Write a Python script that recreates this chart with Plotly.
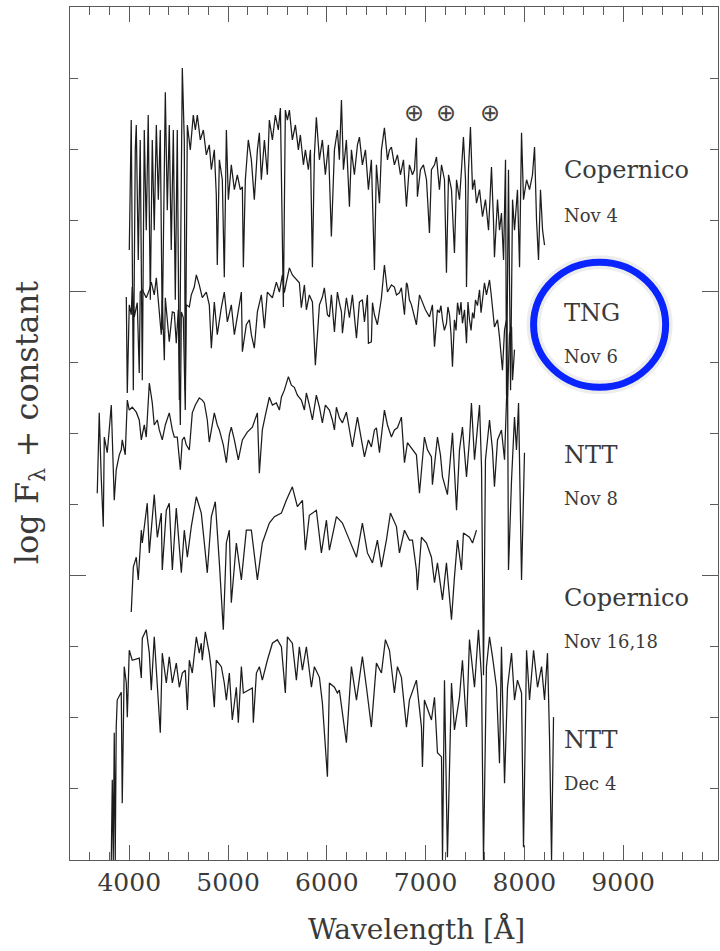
import plotly.graph_objects as go

# ---------------- data (wavelength in Angstrom, log F_lambda + constant) ----------------
cop_nov4_wl = [4000, 4020, 4041, 4061, 4071, 4091, 4111, 4132, 4152, 4172, 4192, 4213, 4233, 4253, 4274, 4294,
               4314, 4334, 4365, 4385, 4405, 4425, 4446, 4466, 4486, 4507, 4537, 4557, 4567, 4588, 4618, 4648,
               4669, 4689, 4719, 4750, 4780, 4810, 4831, 4861, 4881, 4891, 4912, 4942, 4962, 4983, 5003, 5033,
               5064, 5094, 5124, 5145, 5155, 5175, 5205, 5236, 5266, 5297, 5317, 5337, 5368, 5398, 5418, 5449,
               5479, 5509, 5530, 5560, 5580, 5601, 5621, 5651, 5682, 5712, 5732, 5763, 5783, 5813, 5834, 5854,
               5874, 5894, 5925, 5955, 5985, 6016, 6046, 6077, 6107, 6127, 6148, 6168, 6198, 6229, 6249, 6279,
               6310, 6330, 6360, 6391, 6421, 6451, 6482, 6502, 6533, 6553, 6583, 6614, 6634, 6654, 6684, 6715,
               6745, 6776, 6806, 6836, 6867, 6887, 6907, 6917, 6948, 6978, 7009, 7039, 7059, 7090, 7110, 7140,
               7161, 7191, 7211, 7232, 7262, 7292, 7313, 7343, 7363, 7383, 7404, 7414, 7434, 7454, 7475, 7495,
               7515, 7546, 7576, 7606, 7637, 7667, 7687, 7697, 7728, 7748, 7768, 7789, 7809, 7819, 7839, 7860,
               7880, 7900, 7930, 7951, 7971, 7991, 8022, 8052, 8082, 8103, 8123, 8143, 8163, 8184, 8204]
cop_nov4_flux = [8.58, 10.41, 6.61, 9.99, 10.34, 8.44, 10.13, 6.75, 10.27, 8.86, 10.48, 7.88, 10.13, 8.86, 10.34, 9.29,
                 10.27, 7.46, 10.80, 9.14, 10.34, 8.58, 10.27, 7.88, 10.27, 6.47, 11.14, 10.13, 6.61, 10.34, 9.99, 10.48,
                 10.27, 10.48, 10.13, 10.27, 9.92, 10.06, 9.71, 9.99, 9.36, 8.37, 9.85, 9.57, 8.20, 10.27, 9.29, 9.78,
                 9.43, 9.64, 9.43, 9.47, 8.34, 9.57, 10.13, 9.85, 9.29, 9.99, 10.23, 9.57, 10.13, 9.64, 10.41, 10.13,
                 10.48, 10.27, 10.58, 7.78, 10.55, 10.41, 10.55, 10.13, 10.34, 9.99, 10.20, 9.78, 9.99, 9.71, 9.99, 8.34,
                 9.92, 10.45, 9.85, 10.13, 9.64, 10.06, 8.77, 9.99, 10.27, 9.85, 10.69, 9.71, 10.13, 9.19, 9.99, 9.64,
                 10.06, 10.17, 9.78, 9.99, 9.43, 9.85, 8.30, 9.78, 9.24, 9.99, 10.30, 9.85, 9.99, 10.03, 9.78, 9.92,
                 9.64, 9.85, 9.19, 9.78, 9.64, 9.71, 10.16, 9.33, 9.71, 9.78, 9.57, 8.82, 9.71, 9.78, 9.89, 9.43,
                 9.78, 9.57, 8.26, 9.64, 9.43, 8.54, 9.57, 9.29, 9.71, 10.17, 9.57, 8.06, 9.71, 10.31, 9.43, 9.57,
                 9.24, 9.43, 9.05, 9.29, 8.86, 9.75, 9.00, 8.48, 9.29, 8.86, 9.10, 8.44, 9.85, 6.54, 9.71, 6.61,
                 9.29, 8.86, 9.43, 8.34, 10.23, 9.29, 9.57, 9.43, 9.64, 10.03, 9.00, 8.44, 9.43, 8.86, 8.65]

tng_nov6_wl = [3970, 3980, 4000, 4020, 4030, 4051, 4081, 4101, 4111, 4132, 4172, 4203, 4223, 4253, 4274, 4304,
               4324, 4334, 4355, 4365, 4385, 4405, 4436, 4456, 4476, 4496, 4517, 4527, 4547, 4567, 4577, 4608,
               4628, 4658, 4679, 4709, 4739, 4780, 4810, 4831, 4861, 4891, 4932, 4962, 4993, 5033, 5064, 5094,
               5135, 5145, 5185, 5216, 5236, 5266, 5297, 5337, 5368, 5398, 5449, 5489, 5520, 5550, 5570, 5590,
               5621, 5651, 5692, 5722, 5742, 5773, 5793, 5823, 5854, 5884, 5925, 5955, 5975, 6006, 6026, 6046,
               6077, 6107, 6127, 6148, 6158, 6198, 6229, 6259, 6300, 6330, 6360, 6381, 6411, 6421, 6451, 6462,
               6482, 6512, 6553, 6583, 6614, 6654, 6684, 6705, 6735, 6755, 6786, 6806, 6816, 6836, 6857, 6907,
               6938, 6968, 6998, 7039, 7069, 7090, 7120, 7140, 7155, 7171, 7190, 7211, 7226, 7242, 7257, 7272,
               7292, 7308, 7323, 7343, 7358, 7373, 7394, 7414, 7429, 7444, 7460, 7475, 7490, 7505, 7525, 7546,
               7561, 7576, 7596, 7616, 7647, 7662, 7677, 7697, 7728, 7748, 7778, 7799, 7819, 7829, 7849, 7870,
               7880, 7900]
tng_nov6_flux = [7.92, 6.57, 7.81, 7.67, 8.06, 7.64, 7.84, 6.85, 7.99, 8.02, 7.91, 8.02, 8.13, 7.95, 8.19, 7.77,
                 7.39, 7.88, 7.03, 7.91, 7.57, 7.29, 7.71, 7.70, 7.27, 7.74, 6.12, 7.71, 7.63, 6.33, 7.81, 7.78,
                 7.95, 8.06, 8.23, 8.09, 7.91, 7.99, 7.81, 7.20, 7.85, 7.39, 7.77, 7.99, 7.57, 7.81, 7.39, 7.67,
                 7.99, 7.15, 7.53, 7.60, 7.39, 7.20, 7.71, 7.95, 7.48, 7.99, 7.91, 8.13, 7.99, 8.23, 7.98, 8.13,
                 8.33, 8.23, 8.16, 8.12, 7.77, 8.09, 7.74, 7.95, 7.85, 6.96, 7.81, 7.92, 8.05, 7.67, 7.64, 7.95,
                 7.43, 7.99, 7.84, 7.71, 7.41, 7.91, 7.63, 7.95, 7.34, 7.85, 7.88, 7.57, 7.95, 7.27, 7.29, 7.84,
                 7.67, 7.53, 7.91, 8.37, 7.99, 8.09, 8.06, 7.95, 7.98, 8.05, 7.67, 8.12, 8.09, 7.88, 7.81, 7.53,
                 7.95, 7.84, 7.74, 7.64, 7.81, 7.22, 7.74, 7.70, 7.80, 7.60, 7.45, 7.55, 7.78, 7.67, 7.40, 6.94,
                 7.60, 7.45, 7.84, 7.67, 7.85, 7.55, 7.74, 7.27, 7.85, 7.60, 7.45, 7.70, 7.62, 7.88, 7.80, 8.02,
                 7.70, 7.88, 8.12, 7.95, 8.16, 7.98, 7.74, 7.50, 7.60, 7.36, 6.89, 7.46, 7.60, 6.51, 7.39, 7.50,
                 6.75, 7.18]

ntt_nov8_wl = [3676, 3696, 3716, 3737, 3747, 3777, 3797, 3818, 3848, 3868, 3899, 3919, 3929, 3959, 3980, 4000,
               4030, 4071, 4101, 4122, 4152, 4172, 4203, 4233, 4253, 4284, 4304, 4334, 4365, 4405, 4436, 4456,
               4486, 4517, 4537, 4557, 4577, 4608, 4638, 4669, 4709, 4739, 4760, 4790, 4810, 4841, 4861, 4891,
               4912, 4952, 4983, 5013, 5033, 5064, 5104, 5145, 5195, 5246, 5297, 5317, 5347, 5378, 5418, 5449,
               5489, 5520, 5540, 5570, 5611, 5641, 5671, 5702, 5742, 5773, 5793, 5823, 5854, 5894, 5925, 5955,
               5985, 6026, 6056, 6077, 6097, 6127, 6158, 6198, 6229, 6259, 6310, 6350, 6381, 6421, 6451, 6482,
               6502, 6533, 6563, 6583, 6614, 6654, 6684, 6715, 6755, 6786, 6816, 6867, 6907, 6938, 6988, 7019,
               7059, 7069, 7120, 7150, 7171, 7221, 7272, 7313, 7343, 7373, 7414, 7444, 7464, 7495, 7525, 7546,
               7566, 7586, 7606, 7647, 7677, 7697, 7728, 7768, 7799, 7829, 7839, 7870, 7900, 7920, 7941, 7971,
               8001]
ntt_nov8_flux = [5.16, 6.29, 5.39, 4.69, 5.95, 5.73, 6.05, 6.40, 5.06, 5.49, 5.70, 5.77, 5.91, 5.70, 6.47, 6.33,
                 6.37, 6.30, 6.19, 5.91, 6.12, 5.95, 6.71, 6.43, 6.12, 6.19, 6.05, 5.91, 6.12, 6.29, 6.05, 5.95,
                 5.95, 5.49, 5.91, 5.95, 5.84, 5.77, 6.29, 6.40, 6.50, 6.47, 6.43, 6.19, 5.88, 6.12, 6.29, 6.12,
                 6.05, 5.84, 5.59, 5.98, 6.09, 5.91, 5.63, 5.91, 6.02, 6.09, 6.29, 5.44, 6.05, 6.26, 6.51, 6.40,
                 6.43, 6.33, 6.51, 6.61, 6.80, 6.68, 6.65, 6.54, 6.47, 6.33, 6.57, 6.40, 6.19, 6.54, 6.37, 6.15,
                 6.40, 6.33, 6.19, 6.05, 6.37, 6.22, 6.15, 6.30, 6.05, 5.81, 6.23, 5.91, 5.67, 5.91, 5.81, 6.05,
                 6.08, 5.73, 6.12, 6.33, 6.12, 5.95, 6.05, 6.08, 6.23, 5.59, 5.87, 5.77, 5.70, 5.16, 5.95, 5.77,
                 5.67, 5.28, 5.95, 5.70, 5.39, 5.14, 6.01, 4.92, 5.77, 6.09, 5.39, 5.91, 6.43, 5.63, 6.05, 6.40,
                 5.53, 2.60, 5.63, 6.19, 5.77, 5.25, 5.91, 6.05, 5.63, 6.89, 4.08, 5.35, 6.23, 5.77, 6.43, 3.94,
                 5.73]

cop_nov16_wl = [4020, 4041, 4071, 4091, 4122, 4132, 4182, 4203, 4253, 4284, 4324, 4334, 4375, 4405, 4436, 4476,
                4527, 4557, 4588, 4628, 4679, 4729, 4760, 4790, 4831, 4871, 4912, 4952, 4983, 5013, 5033, 5084,
                5135, 5185, 5236, 5297, 5347, 5418, 5469, 5540, 5590, 5651, 5702, 5753, 5783, 5823, 5894, 5945,
                5996, 6026, 6097, 6158, 6229, 6300, 6360, 6411, 6462, 6512, 6553, 6603, 6644, 6705, 6735, 6786,
                6836, 6867, 6907, 6917, 6958, 7009, 7059, 7090, 7120, 7171, 7211, 7262, 7292, 7323, 7363, 7383,
                7444, 7475, 7515]
cop_nov16_flux = [3.49, 4.12, 4.26, 3.94, 4.64, 4.46, 5.02, 4.32, 5.14, 4.54, 4.88, 4.08, 4.92, 5.02, 4.08, 4.95,
                  4.04, 4.64, 4.26, 4.69, 5.11, 4.88, 4.46, 4.04, 4.83, 5.04, 4.18, 3.24, 4.46, 4.64, 3.62, 4.46,
                  3.94, 4.64, 4.64, 3.94, 4.46, 4.74, 4.83, 4.88, 5.06, 5.25, 4.97, 5.06, 4.36, 4.85, 4.92, 4.32,
                  4.78, 4.36, 4.83, 4.74, 4.50, 4.26, 4.74, 4.32, 4.18, 4.50, 4.12, 4.50, 4.88, 4.69, 4.32, 4.64,
                  4.50, 4.50, 4.08, 3.80, 4.54, 4.46, 4.26, 3.90, 4.18, 3.66, 4.18, 3.38, 3.98, 4.50, 4.08, 4.60,
                  4.54, 4.46, 4.64]

ntt_dec4_wl = [3818, 3828, 3838, 3848, 3858, 3868, 3878, 3919, 3929, 3949, 3970, 3980, 4000, 4030, 4101, 4122,
               4132, 4172, 4203, 4223, 4253, 4274, 4314, 4334, 4375, 4405, 4436, 4476, 4507, 4537, 4567, 4588,
               4608, 4638, 4679, 4709, 4729, 4739, 4770, 4810, 4831, 4861, 4881, 4932, 4962, 4983, 5013, 5043,
               5084, 5104, 5135, 5155, 5246, 5256, 5287, 5317, 5347, 5398, 5449, 5499, 5540, 5580, 5601, 5651,
               5692, 5722, 5753, 5793, 5844, 5874, 5925, 5955, 5985, 6006, 6026, 6077, 6107, 6127, 6198, 6249,
               6300, 6360, 6401, 6451, 6502, 6553, 6593, 6634, 6684, 6715, 6755, 6806, 6836, 6907, 6958, 6968,
               6988, 7059, 7090, 7120, 7161, 7171, 7191, 7221, 7262, 7292, 7343, 7373, 7414, 7444, 7495, 7535,
               7566, 7586, 7616, 7647, 7677, 7718, 7748, 7768, 7799, 7829, 7870, 7900, 7930, 7971, 7991, 8022,
               8052, 8093, 8133, 8174, 8204, 8234, 8255, 8275, 8295]
ntt_dec4_flux = [0.00, 1.13, 0.00, 1.79, 0.00, 1.87, 2.25, 2.36, 0.80, 2.72, 2.49, 2.01, 2.95, 2.81, 2.84, 2.56,
                 3.12, 3.24, 2.91, 2.39, 3.14, 2.72, 1.79, 2.91, 2.49, 2.86, 2.49, 2.77, 2.43, 2.63, 2.67, 2.11,
                 2.81, 2.63, 3.14, 2.91, 3.05, 2.81, 3.21, 2.91, 2.67, 2.15, 2.81, 2.72, 2.49, 2.25, 2.63, 1.97,
                 2.43, 1.93, 2.72, 2.35, 2.42, 1.93, 2.63, 2.72, 2.53, 2.81, 3.05, 3.10, 3.00, 2.35, 3.14, 3.05,
                 2.53, 3.00, 2.67, 3.00, 2.43, 2.72, 2.57, 2.21, 1.59, 1.17, 2.49, 2.43, 2.35, 2.39, 1.65, 2.72,
                 2.25, 2.86, 2.43, 1.87, 2.77, 2.63, 3.10, 2.95, 2.35, 2.72, 2.57, 1.87, 2.25, 2.53, 1.87, 1.31,
                 2.25, 1.97, 2.29, 1.51, 1.45, 0.00, 2.53, 0.04, 2.49, 1.83, 2.29, 2.81, 1.87, 3.10, 2.43, 3.24,
                 2.57, 0.00, 2.72, 3.14, 2.86, 2.43, 1.36, 3.00, 1.08, 2.43, 2.91, 2.25, 2.53, 2.35, 0.18, 2.95,
                 2.25, 2.95, 2.43, 2.72, 2.25, 2.91, 1.69, 0.00, 2.01]

# right-hand labels: telescope, date, vertical position
label_names = ["Copernico", "TNG", "NTT", "Copernico", "NTT"]
label_dates = ["Nov 4", "Nov 6", "Nov 8", "Nov 16,18", "Dec 4"]
label_name_y = [9.71, 7.70, 5.70, 3.69, 1.69]
label_date_y = [9.07, 7.08, 5.09, 3.07, 1.07]
label_x = 8380

# telluric markers
telluric_wl = [6887, 7211, 7647]
telluric_y = 10.51

x_tickvals = [4000, 5000, 6000, 7000, 8000, 9000]
x_ticktext = ["4000", "5000", "6000", "7000", "8000", "9000"]

FONT = "DejaVu Serif"
TXT = "#3a3a3a"
AX = "#5a5a5a"
LINE = "#1c1c1c"

fig = go.Figure()
for wl, fl, name in [(cop_nov4_wl, cop_nov4_flux, "Copernico Nov 4"),
                     (tng_nov6_wl, tng_nov6_flux, "TNG Nov 6"),
                     (ntt_nov8_wl, ntt_nov8_flux, "NTT Nov 8"),
                     (cop_nov16_wl, cop_nov16_flux, "Copernico Nov 16,18"),
                     (ntt_dec4_wl, ntt_dec4_flux, "NTT Dec 4")]:
    fig.add_trace(go.Scatter(x=wl, y=fl, mode="lines", name=name,
                             line=dict(color=LINE, width=1.25), showlegend=False,
                             hoverinfo="skip"))

annotations = []
for nm, dt, yn, yd in zip(label_names, label_dates, label_name_y, label_date_y):
    annotations.append(dict(x=label_x, y=yn, text=nm, showarrow=False, xanchor="left", yanchor="middle",
                            font=dict(family=FONT, size=24, color=TXT)))
    annotations.append(dict(x=label_x, y=yd, text=dt, showarrow=False, xanchor="left", yanchor="middle",
                            font=dict(family=FONT, size=18, color=TXT)))
for w in telluric_wl:
    annotations.append(dict(x=w, y=telluric_y, text="⊕", showarrow=False, xanchor="center", yanchor="middle",
                            font=dict(family="DejaVu Sans", size=24, color="#444444")))
# axis titles
annotations.append(dict(xref="paper", yref="paper", x=0.535, y=-0.082, text="Wavelength [Å]", showarrow=False,
                        xanchor="center", yanchor="middle", font=dict(family=FONT, size=28, color=TXT)))
annotations.append(dict(xref="paper", yref="paper", x=-0.062, y=0.513, text="log F<sub>λ</sub> + constant",
                        showarrow=False, textangle=-90, xanchor="center", yanchor="middle",
                        font=dict(family=FONT, size=32, color=TXT)))

shapes = [
    dict(type="circle", xref="x", yref="y", x0=8093, x1=9430, y0=6.65, y1=8.41,
         line=dict(color="rgba(0,0,0,0.07)", width=14), layer="above"),
    dict(type="circle", xref="x", yref="y", x0=8093, x1=9430, y0=6.65, y1=8.41,
         line=dict(color="#0a24ff", width=7), layer="above"),
]

fig.update_layout(
    width=720, height=951,
    margin=dict(l=70, r=2, t=7, b=91),
    paper_bgcolor="white", plot_bgcolor="white",
    showlegend=False,
    annotations=annotations,
    shapes=shapes,
    xaxis=dict(range=[3400, 9960], showgrid=False, zeroline=False,
               showline=True, linecolor=AX, linewidth=1.2, mirror="ticks",
               tickmode="array", tickvals=x_tickvals, ticktext=x_ticktext,
               ticks="inside", ticklen=15, tickwidth=1.2, tickcolor=AX,
               tickfont=dict(family=FONT, size=25, color=TXT),
               minor=dict(dtick=200, tick0=0, ticks="inside", ticklen=8, tickwidth=1.1, tickcolor=AX,
                          showgrid=False)),
    yaxis=dict(range=[0, 12], showgrid=False, zeroline=False,
               showline=True, linecolor=AX, linewidth=1.2, mirror="ticks",
               tickmode="array", tickvals=[0, 4, 8, 12], showticklabels=False,
               ticks="inside", ticklen=16, tickwidth=1.2, tickcolor=AX,
               minor=dict(dtick=1, tick0=0, ticks="inside", ticklen=8, tickwidth=1.1, tickcolor=AX,
                          showgrid=False)),
)

fig.write_html("out.html")
